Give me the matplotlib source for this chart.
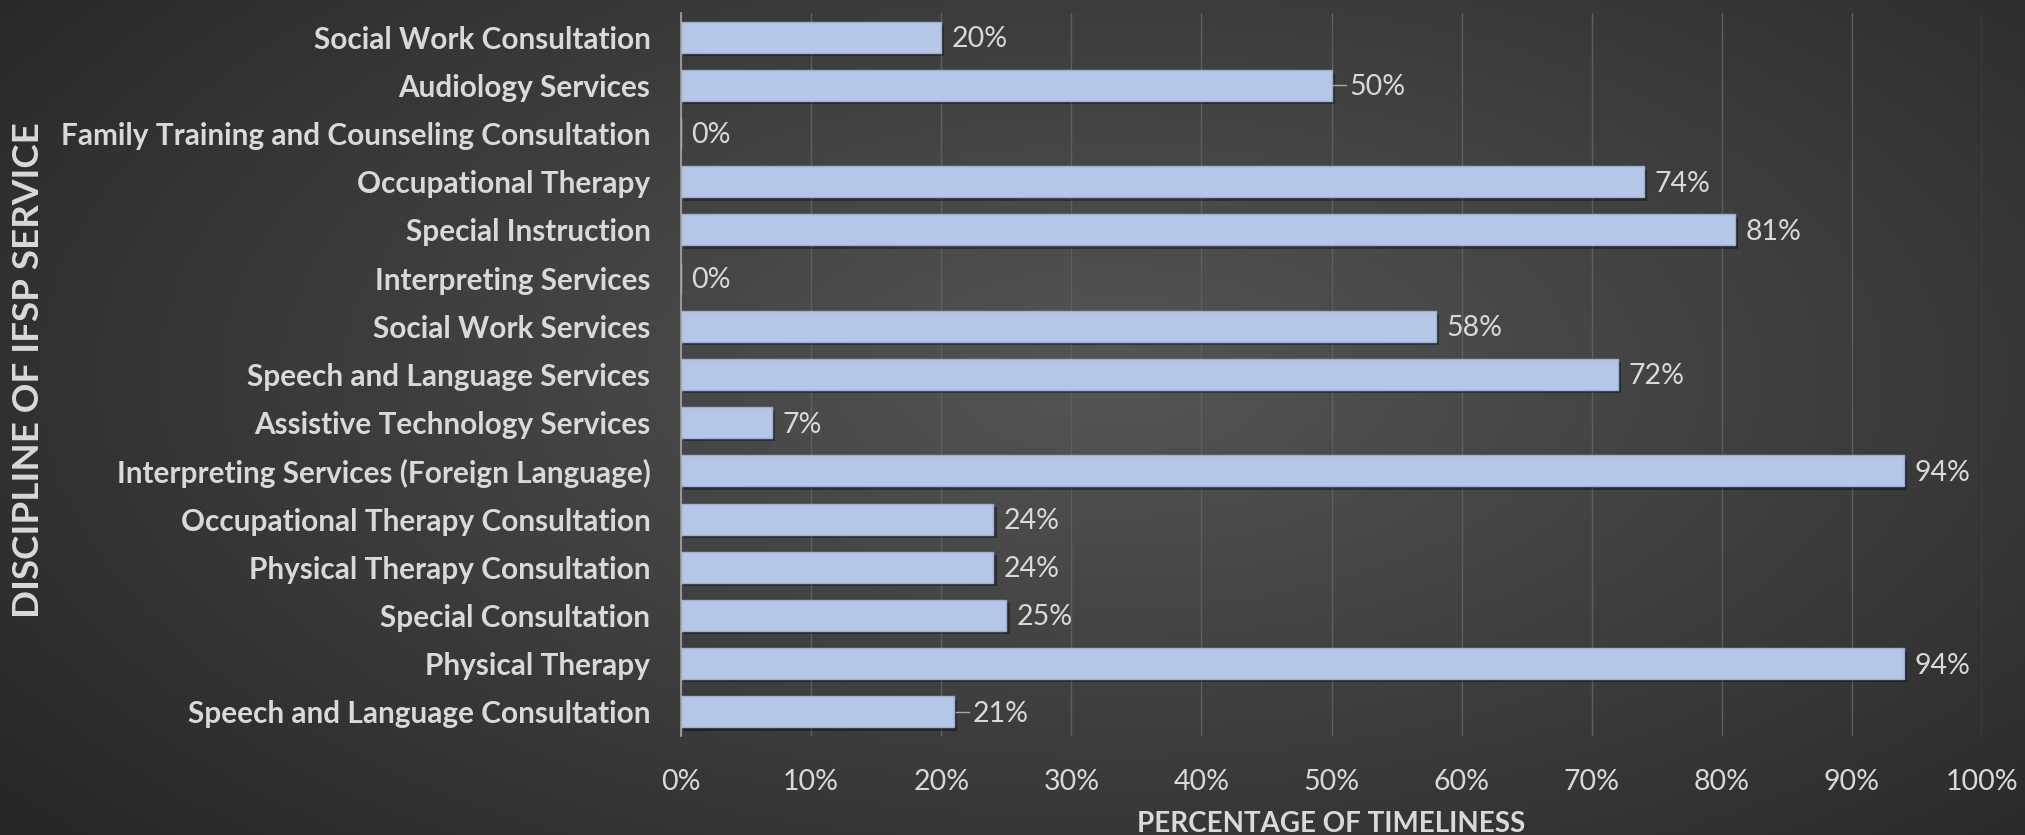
import numpy as np
import matplotlib
matplotlib.use("Agg")
import matplotlib.pyplot as plt
from matplotlib.colors import LinearSegmentedColormap

services = [
    "Social Work Consultation",
    "Audiology Services",
    "Family Training and Counseling Consultation",
    "Occupational Therapy",
    "Special Instruction",
    "Interpreting Services",
    "Social Work Services",
    "Speech and Language Services",
    "Assistive Technology Services",
    "Interpreting Services (Foreign Language)",
    "Occupational Therapy Consultation",
    "Physical Therapy Consultation",
    "Special Consultation",
    "Physical Therapy",
    "Speech and Language Consultation",
]
timeliness = [20, 50, 0, 74, 81, 0, 58, 72, 7, 94, 24, 24, 25, 94, 21]
leader_lines = ["Audiology Services", "Speech and Language Consultation"]
x_ticks = list(range(0, 101, 10))

plt.rcParams['font.family'] = ['Lato', 'DejaVu Sans']
txt = '#d9d9d9'

fig = plt.figure(figsize=(20.25, 8.35), dpi=100)

# background radial gradient
bg = fig.add_axes([0, 0, 1, 1])
yy, xx = np.mgrid[0:1:300j, 0:1:600j]
r = np.sqrt(((xx - 0.55) / 0.75) ** 2 + ((yy - 0.45) / 0.9) ** 2)
cmap_bg = LinearSegmentedColormap.from_list('bg', ['#555555', '#262626'])
bg.imshow(r, cmap=cmap_bg, vmin=0, vmax=0.95, aspect='auto', extent=[0, 1, 0, 1])
bg.axis('off')

ax = fig.add_axes([0.3363, 0.1186, 0.6425, 0.8658])
ax.patch.set_alpha(0)

y = np.arange(len(services))
# soft shadow under bars
ax.barh(y + 0.07, timeliness, height=0.64, left=0.25, color='black', alpha=0.35, zorder=2)
ax.barh(y, timeliness, height=0.64, color='#b4c7e7', edgecolor='#9bb0d0', linewidth=1.0, zorder=3)

for i, (name, v) in enumerate(zip(services, timeliness)):
    if name in leader_lines:
        ax.plot([v + 0.1, v + 1.1], [i, i], color='#a6a6a6', lw=1.0, zorder=3)
        ax.text(v + 1.4, i + 0.04, f"{v}%", va='center', ha='left', color=txt, fontsize=20.5, zorder=4)
    else:
        ax.text(v + 0.8, i + 0.04, f"{v}%", va='center', ha='left', color=txt, fontsize=20.5, zorder=4)

ax.set_ylim(len(services) - 0.5, -0.5)
ax.set_xlim(0, 100)
ax.set_yticks(y)
ax.set_yticklabels(services, fontsize=21.4, fontweight='bold', color=txt)
ax.set_xticks(x_ticks)
ax.set_xticklabels([f"{t}%" for t in x_ticks], fontsize=20.5, color=txt)
ax.tick_params(axis='both', length=0)
ax.tick_params(axis='y', pad=22)
ax.tick_params(axis='x', pad=24)

ax.grid(axis='x', color='#5e5e5e', lw=1.0, zorder=1)
ax.set_axisbelow(True)
for s in ['top', 'right', 'bottom']:
    ax.spines[s].set_visible(False)
ax.spines['left'].set_color('#a6a6a6')
ax.spines['left'].set_linewidth(1.2)
ax.spines['left'].set_zorder(5)

fig.text(0.014, 0.557, 'DISCIPLINE OF IFSP SERVICE', rotation=90, ha='center', va='center',
         fontsize=26.5, fontweight='bold', color=txt)
fig.text(0.6575, 0.013, 'PERCENTAGE OF TIMELINESS', ha='center', va='center',
         fontsize=20, fontweight='bold', color=txt)

fig.savefig('out.png', dpi=100)
